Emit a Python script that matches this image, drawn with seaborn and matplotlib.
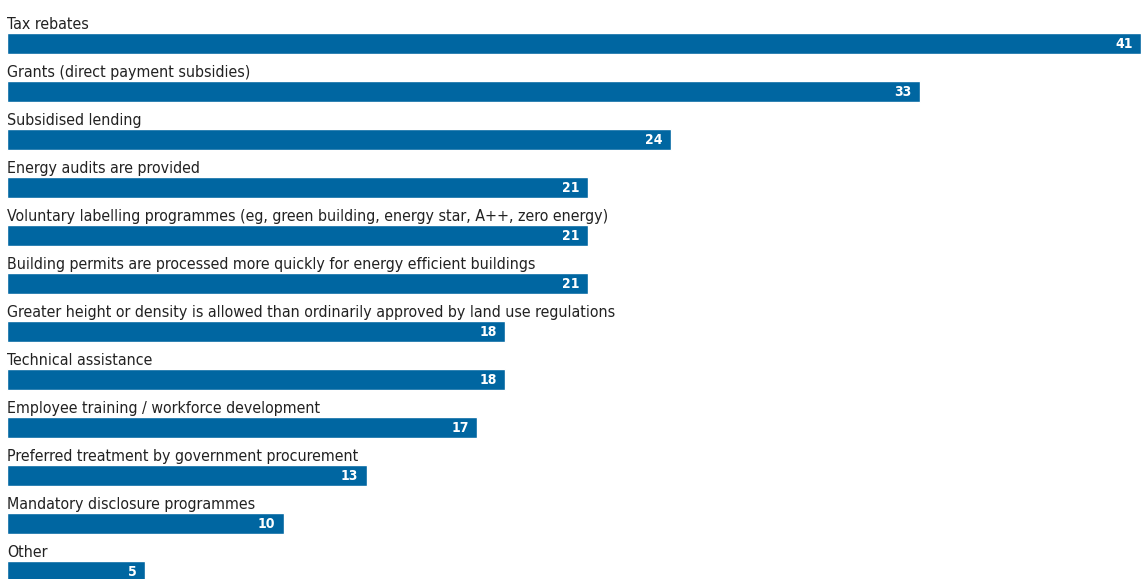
import matplotlib
matplotlib.use('Agg')
import matplotlib.pyplot as plt
import seaborn as sns

labels = [
    'Tax rebates',
    'Grants (direct payment subsidies)',
    'Subsidised lending',
    'Energy audits are provided',
    'Voluntary labelling programmes (eg, green building, energy star, A++, zero energy)',
    'Building permits are processed more quickly for energy efficient buildings',
    'Greater height or density is allowed than ordinarily approved by land use regulations',
    'Technical assistance',
    'Employee training / workforce development',
    'Preferred treatment by government procurement',
    'Mandatory disclosure programmes',
    'Other',
]
values = [41, 33, 24, 21, 21, 21, 18, 18, 17, 13, 10, 5]

bar_color = '#0066a1'
font = ['DejaVu Sans']

sns.set_style('white')
fig = plt.figure(figsize=(11.41, 5.79), dpi=100)
ax = fig.add_axes([7 / 1141, 0, 1134 / 1141, 1])

sns.barplot(x=values, y=labels, orient='h', color=bar_color, saturation=1,
            width=0.42, ax=ax)

for i, (lab, v) in enumerate(zip(labels, values)):
    # category name above the bar
    ax.text(0, i - 0.31, lab, ha='left', va='baseline', fontsize=11.45,
            color='#222222', family=font, fontstretch='condensed')
    # value at the bar end
    ax.annotate(str(v), (v, i), xytext=(-6, -0.5), textcoords='offset points',
                ha='right', va='center', color='white', fontsize=10,
                fontweight='bold', family=font, fontstretch='condensed')

ax.set_xlim(0, 41)
ax.set_ylim(11.156, -0.906)
ax.axis('off')

fig.savefig('out.png', dpi=100)
